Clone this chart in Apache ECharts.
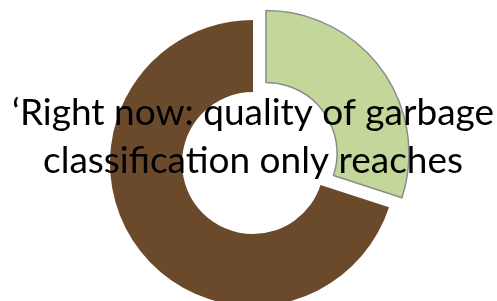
<!DOCTYPE html>
<html><head><meta charset="utf-8">
<script src="https://cdn.jsdelivr.net/npm/echarts@6/dist/echarts.min.js"></script>
<style>html,body{margin:0;padding:0;background:#fff}#c{width:497px;height:301px}</style>
</head><body><div id="c"></div>
<script>
var categories = ['Reached', 'Not reached'];
var values = [30, 70];
var colors = ['#c4d79b', '#6b4a2b'];
var overlayLines = ['‘Right now: quality of garbage', 'classification only reaches'];

var chart = echarts.init(document.getElementById('c'), null, {renderer: 'canvas'});
chart.setOption({
  animation: false,
  series: [{
    type: 'pie',
    center: [253, 163],
    radius: [71, 143],
    startAngle: 90,
    clockwise: true,
    selectedMode: 'single',
    selectedOffset: 16,
    label: {show: false},
    labelLine: {show: false},
    emphasis: {disabled: true},
    data: categories.map(function (c, i) {
      return {
        name: c, value: values[i], selected: i === 0,
        itemStyle: i === 0 ? {color: colors[i], borderColor: '#8c8c8c', borderWidth: 1.5} : {color: colors[i], borderWidth: 0}
      };
    })
  }],
  graphic: overlayLines.map(function (t, i) {
    return {
      type: 'text',
      x: 253,
      y: 113 + i * 48,
      z: 100,
      style: {
        text: t,
        font: '37px Lato',
        fill: '#000',
        align: 'center',
        verticalAlign: 'middle'
      }
    };
  })
});
</script></body></html>
